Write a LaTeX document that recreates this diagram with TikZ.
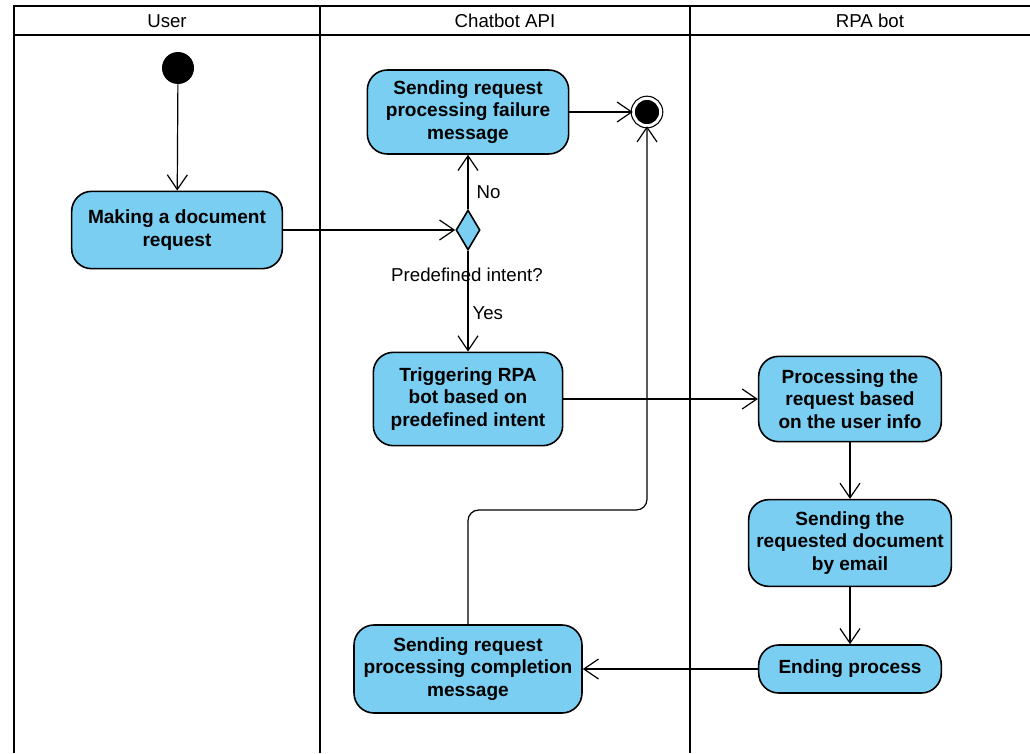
\documentclass[tikz,border=0pt]{standalone}
\usepackage{fontspec}
\setmainfont{Liberation Sans}
\usetikzlibrary{arrows.meta,positioning,shapes.geometric}
\definecolor{actblue}{RGB}{122,206,242}

\tikzset{
  act/.style={draw, line width=1.2pt, fill=actblue, rounded corners=15pt,
    align=center, inner sep=1pt,
    font=\bfseries\fontsize{14.3}{17}\selectfont},
  flow/.style={line width=0.9pt, -{Straight Barb[length=11pt,width=15pt,line width=0.9pt]}},
  lane/.style={line width=1.4pt},
  lbl/.style={font=\fontsize{14}{16}\selectfont, inner sep=1pt},
}

\begin{document}
\begin{tikzpicture}[x=0.75pt,y=-0.75pt]
\useasboundingbox (0,0) rectangle (1030,753);
% swimlanes
\draw[lane] (14,753) -- (14,6) -- (1030,6);
\draw[lane] (14,35) -- (1030,35);
\draw[lane] (320,6) -- (320,753);
\draw[lane] (690,6) -- (690,753);
\node[lbl] (huser) at (167,21) {User};
\node[lbl] (hchat) at (505,21) {Chatbot API};
\node[lbl] (hrpa) at (870,21) {RPA bot};

% user lane
\node[circle, fill=black, minimum size=24pt, inner sep=0pt] (start) at (178,68) {};
\node[act, minimum width=158pt, minimum height=58pt] (req) at (177,230) {Making a document\\request};

% chatbot lane
\node[diamond, draw, line width=1.2pt, fill=actblue, inner sep=0pt, aspect=0.6,
  minimum width=18pt, minimum height=30pt] (intent) at (468,230) {};
\node[act, minimum width=151pt, minimum height=63pt] (fail) at (468,112) {Sending request\\processing failure\\message};
\node[circle, fill=black, draw=black, double=white, double distance=2.2pt, line width=0.9pt,
  minimum size=20.5pt, inner sep=0pt] (stop) at (647,112) {};
\node[act, minimum width=142pt, minimum height=70pt] (trig) at (468,399) {Triggering RPA\\bot based on\\predefined intent};
\node[act, minimum width=171pt, minimum height=66pt] (comp) at (468,669) {Sending request\\processing completion\\message};
\node[lbl, anchor=west] (no) at (475,192) {No};
\node[lbl, anchor=west] (yes) at (471,313) {Yes};
\node[lbl] (cond) at (467,275) {Predefined intent?};

% rpa lane
\node[act, minimum width=137pt, minimum height=64pt] (proc) at (850,399) {Processing the\\request based\\on the user info};
\node[act, minimum width=152pt, minimum height=65pt] (mail) at (850,543) {Sending the\\requested document\\by email};
\node[act, minimum width=137pt, minimum height=36pt] (endp) at (850,669) {Ending process};

% flows
\draw[flow] (start) -- (req);
\draw[flow] (req) -- (intent);
\draw[flow] (intent) -- (fail);
\draw[flow] (intent) -- (trig);
\draw[flow] (fail) -- (stop);
\draw[flow] (trig) -- (proc);
\draw[flow] (proc) -- (mail);
\draw[flow] (mail) -- (endp);
\draw[flow] (endp) -- (comp);
\draw[flow, rounded corners=8pt] (comp.north) |- (stop.south |- 0,510) -- (stop.south);
\end{tikzpicture}
\end{document}
